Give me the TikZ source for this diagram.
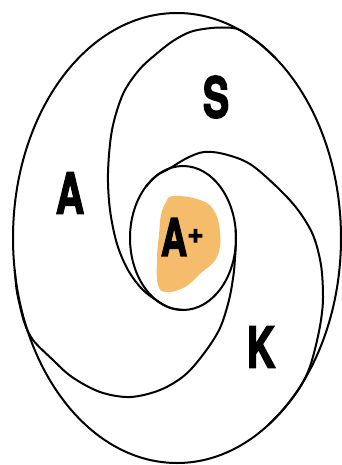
\documentclass[tikz,border=0pt]{standalone}
\usepackage{fontspec}
\setsansfont{TeX Gyre Heros}
\newfontfamily\labelfont{texgyreheros-bold}[Extension=.otf, FakeBold=3]
\definecolor{blob}{RGB}{245,188,108}
\tikzset{
  curve/.style={line width=2pt, line cap=round, line join=round},
  biglabel/.style={font=\labelfont\fontsize{56}{56}\selectfont, inner sep=0pt},
}
\newcommand{\cond}[1]{\scalebox{0.7}[1]{#1}}
\begin{document}
\begin{tikzpicture}[x=1pt,y=-1pt]
\useasboundingbox (0,0) rectangle (342,465);
% orange blob
\fill[blob] plot[smooth cycle, tension=0.7] coordinates {
 (173,196) (197,199) (213,209) (220,232) (217,257) (201,273) (185,287)
 (167,292) (158,285) (157,258) (159,235) (161,215) (166,202)};
% outer boundary
\draw[curve] (177,238) ellipse [x radius=164, y radius=225];
% inner ellipse A+
\draw[curve] (183,238) ellipse [x radius=53, y radius=72];
% arm 1 (A / S divider)
\draw[curve] plot[smooth, tension=0.55] coordinates {
 (275,57.6) (262,45.6) (250,36.5) (237,28.8) (222,27.5) (207,28.5) (190,32)
 (173,41) (155,55) (139,70) (123,94) (112,130) (108,173) (110,210) (117,244)
 (128,270) (142,289) (157,300.7) (170,307.8) (183,310)};
% arm 2 (A / K divider)
\draw[curve] plot[smooth, tension=0.55] coordinates {
 (14.7,270) (16.4,288) (18.6,300) (24.2,322) (33,340) (53,360) (72,377)
 (100,392) (130,397) (160,390) (185,375) (205,352) (220,328) (229,300)
 (233.5,275) (235,258) (235.8,245) (235.7,230)};
% arm 3 (S / K divider)
\draw[curve] plot[smooth, tension=0.55] coordinates {
 (268.2,425) (280.1,413) (291,400) (301.4,385) (309.5,368) (316,345) (321,320)
 (323,297) (321,265) (313,235) (298,210) (278,188) (250,164) (224,154)
 (204,152) (187,158) (170,168.2) (157,175.3) (146,186.5)};
% labels
\node[biglabel] (la) at (70,193) {\cond{A}};
\node[biglabel] (ls) at (216,97) {\cond{S}};
\node[biglabel] (lk) at (261,347) {\cond{K}};
\node[font=\labelfont\fontsize{52}{52}\selectfont, inner sep=0pt] (lap) at (174,237) {\cond{A}};
\node[font=\labelfont\fontsize{28}{28}\selectfont, inner sep=0pt] (plus) at (195.5,236) {+};
\end{tikzpicture}
\end{document}
